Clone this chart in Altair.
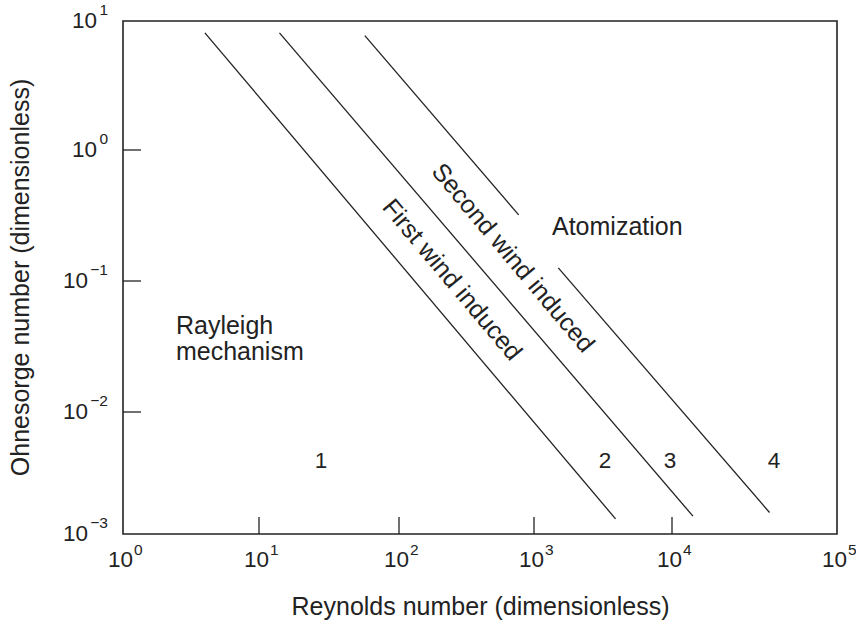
import altair as alt
import pandas as pd

FONT = "Liberation Sans"
INK = "#222222"

# Regime boundary lines (Reynolds number, Ohnesorge number); segment c is broken around the label
line_seg = ["a", "a", "b", "b", "c1", "c1", "c2", "c2"]
line_re = [4.0, 3900, 14, 13400, 57, 770, 1500, 39000]
line_oh = [8.1, 0.00133, 8.1, 0.0014, 7.7, 0.32, 0.126, 0.0015]

# Axis decades and their exponent labels
x_tick_vals = [1, 10, 100, 1000, 10000, 100000]
x_tick_exps = ["0", "1", "2", "3", "4", "5"]
y_tick_vals = [10, 1, 0.1, 0.01, 0.001]
y_tick_exps = ["1", "0", "\u22121", "\u22122", "\u22123"]
x_inner_ticks = [10, 100, 1000, 10000]
y_inner_ticks = [1, 0.1, 0.01]

# Region names
region_text = ["Rayleigh", "mechanism", "Atomization"]
region_re = [2.45, 2.45, 1350]
region_oh = [0.0394, 0.0249, 0.224]

# Regime numbers
regime_text = ["1", "2", "3", "4"]
regime_re = [27.7, 3270, 9680, 41500]
regime_oh = [0.00348, 0.00348, 0.00348, 0.00348]

# Labels running along the wind-induced boundaries
slant_text = ["First wind induced", "Second wind induced"]
slant_re = [247, 698]
slant_oh = [0.102, 0.15]

W, H = 714, 513

lines_df = pd.DataFrame({"seg": line_seg, "re": line_re, "oh": line_oh})
xlab_df = pd.DataFrame({"re": x_tick_vals, "exp": x_tick_exps})
ylab_df = pd.DataFrame({"oh": y_tick_vals, "exp": y_tick_exps})
xt_df = pd.DataFrame({"re": x_inner_ticks})
yt_df = pd.DataFrame({"oh": y_inner_ticks})
region_df = pd.DataFrame({"re": region_re, "oh": region_oh, "label": region_text})
regime_df = pd.DataFrame({"re": regime_re, "oh": regime_oh, "label": regime_text})
slant_df = pd.DataFrame({"re": slant_re, "oh": slant_oh, "label": slant_text})

x_scale = alt.Scale(type="log", domain=[1, 10, 100, 1000, 10000, 100000],
                    range=[0, 136, 276, 411, 549, W], nice=False)
y_scale = alt.Scale(type="log", domain=[0.001, 0.01, 0.1, 1, 10],
                    range=[H, 391, 260, 129, 0], nice=False)

x_axis = alt.Axis(title="Reynolds number (dimensionless)", labels=False, ticks=False,
                  domain=False, grid=False, titleFont=FONT, titleFontSize=25,
                  titleFontWeight="normal", titleColor=INK, titleY=80,
                  titleBaseline="alphabetic")
y_axis = alt.Axis(title="Ohnesorge number (dimensionless)", labels=False, ticks=False,
                  domain=False, grid=False, titleFont=FONT, titleFontSize=25,
                  titleFontWeight="normal", titleColor=INK, titleX=-95, titleY=256,
                  titleAngle=270, titleAlign="center", titleBaseline="alphabetic")


def X():
    return alt.X("re:Q", scale=x_scale, axis=x_axis)


def Y():
    return alt.Y("oh:Q", scale=y_scale, axis=y_axis)


lines = alt.Chart(lines_df).mark_line(color=INK, strokeWidth=1.3).encode(
    x=X(), y=Y(), detail="seg:N"
)

x_ticks = alt.Chart(xt_df).mark_rule(color=INK, strokeWidth=1.3).encode(
    x=X(), y=alt.value(H), y2=alt.value(H - 17)
)
y_ticks = alt.Chart(yt_df).mark_rule(color=INK, strokeWidth=1.3).encode(
    y=Y(), x=alt.value(0), x2=alt.value(18)
)

x_base = alt.Chart(xlab_df).mark_text(
    align="right", baseline="alphabetic", dx=10, fontSize=22.5, font=FONT, color=INK
).encode(x=X(), y=alt.value(H + 33), text=alt.value("10"))
x_exp = alt.Chart(xlab_df).mark_text(
    align="left", baseline="alphabetic", dx=11, fontSize=15.5, font=FONT, color=INK
).encode(x=X(), y=alt.value(H + 21), text="exp:N")

y_exp = alt.Chart(ylab_df).mark_text(
    align="right", baseline="alphabetic", dy=-6.5, fontSize=15.5, font=FONT, color=INK
).encode(y=Y(), x=alt.value(-15), text="exp:N")
y_base_short = alt.Chart(ylab_df).transform_filter(
    "length(datum.exp) == 1"
).mark_text(
    align="right", baseline="alphabetic", dy=6.5, fontSize=22.5, font=FONT, color=INK
).encode(y=Y(), x=alt.value(-26), text=alt.value("10"))
y_base_long = alt.Chart(ylab_df).transform_filter(
    "length(datum.exp) == 2"
).mark_text(
    align="right", baseline="alphabetic", dy=6.5, fontSize=22.5, font=FONT, color=INK
).encode(y=Y(), x=alt.value(-35), text=alt.value("10"))

regions = alt.Chart(region_df).mark_text(
    align="left", baseline="alphabetic", fontSize=25, font=FONT, color=INK
).encode(x=X(), y=Y(), text="label:N")

regimes = alt.Chart(regime_df).mark_text(
    align="center", baseline="alphabetic", fontSize=22.5, font=FONT, color=INK
).encode(x=X(), y=Y(), text="label:N")

slants = alt.Chart(slant_df).mark_text(
    align="center", baseline="middle", angle=50, fontSize=25, font=FONT, color=INK
).encode(x=X(), y=Y(), text="label:N")

chart = alt.layer(
    lines, x_ticks, y_ticks, x_base, x_exp, y_exp, y_base_short, y_base_long,
    regions, regimes, slants
).properties(
    width=W, height=H,
    autosize=alt.AutoSizeParams(type="none"),
    padding={"left": 123, "top": 21, "right": 856 - 123 - W, "bottom": 621 - 21 - H},
    background="white",
).configure_view(
    stroke=INK, strokeWidth=1.6
)

chart.save("out.html", embed_options={"renderer": "svg", "actions": False})
